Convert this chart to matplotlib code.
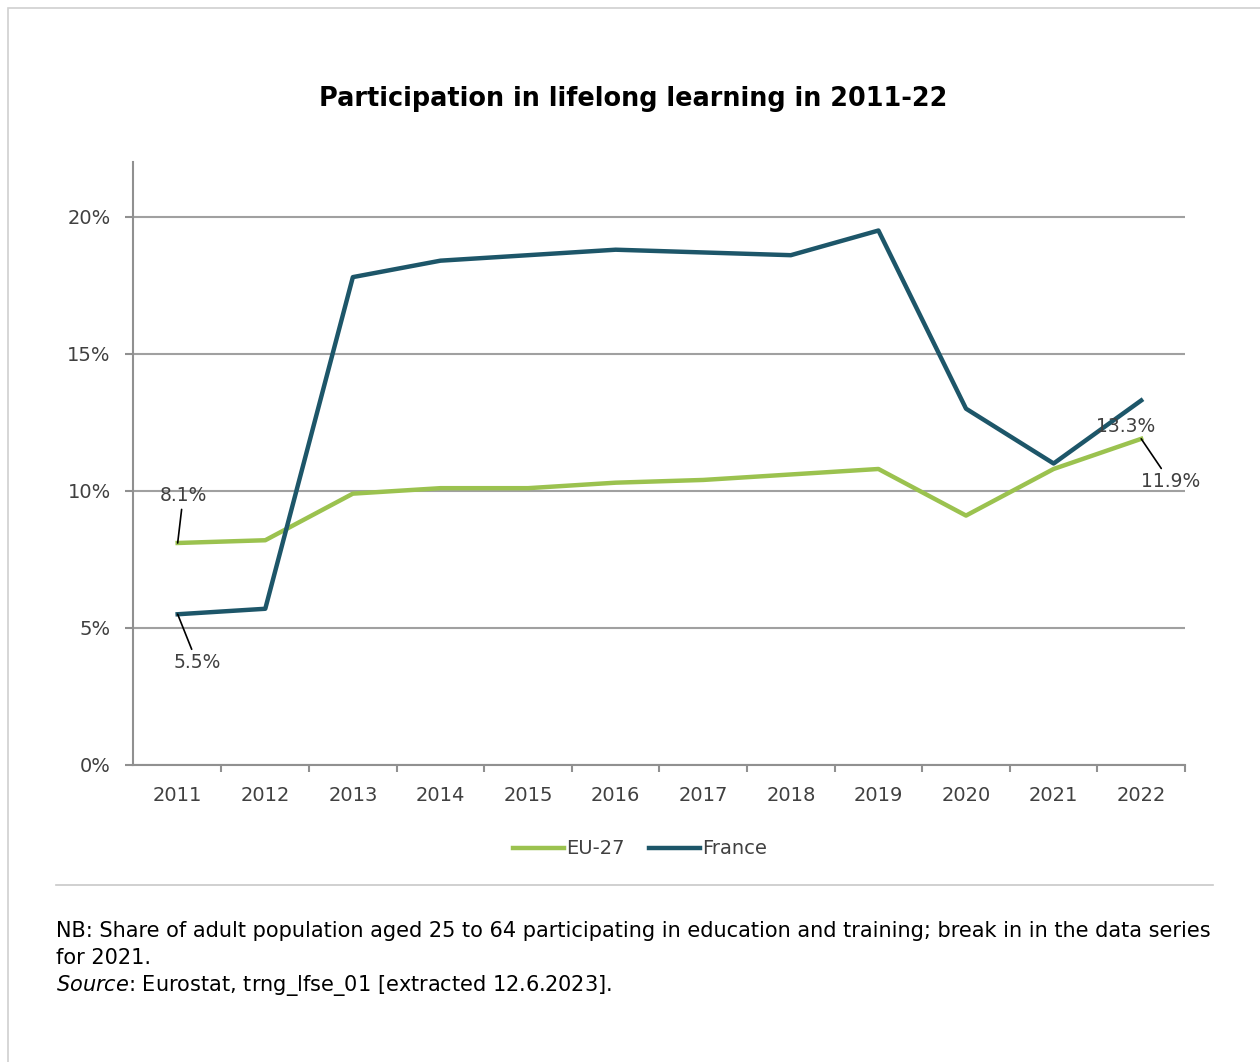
import matplotlib.pyplot as plt
from matplotlib.patches import Rectangle
from matplotlib.ticker import FixedLocator, FuncFormatter

# data (%)
years = [2011, 2012, 2013, 2014, 2015, 2016, 2017, 2018, 2019, 2020, 2021, 2022]
eu27 = [8.1, 8.2, 9.9, 10.1, 10.1, 10.3, 10.4, 10.6, 10.8, 9.1, 10.8, 11.9]
france = [5.5, 5.7, 17.8, 18.4, 18.6, 18.8, 18.7, 18.6, 19.5, 13.0, 11.0, 13.3]

green = '#9bc24f'
teal = '#1d5669'
grey_txt = '#404040'

fig = plt.figure(figsize=(12.6, 10.62), dpi=100)
ax = fig.add_axes([133 / 1260, 1 - 765 / 1062, (1185 - 133) / 1260, (765 - 162) / 1062])

ax.plot(years, eu27, color=green, lw=3.2, label='EU-27', zorder=3)
ax.plot(years, france, color=teal, lw=3.2, label='France', zorder=3)

ax.set_xlim(years[0] - 0.51, years[-1] + 0.5)
ax.set_ylim(0, 22)

# y axis
ax.set_yticks([0, 5, 10, 15, 20])
ax.yaxis.set_major_formatter(FuncFormatter(lambda v, p: f'{v:.0f}%'))
ax.yaxis.grid(True, color='#a0a0a0', lw=1.5)
ax.set_axisbelow(True)

# x axis: labels at centres, tick marks between categories
ax.set_xticks(years)
ax.set_xticklabels([str(y) for y in years])
ax.xaxis.set_minor_locator(FixedLocator([y + 0.5 for y in years]))
ax.tick_params(axis='x', which='major', length=0, pad=15)
ax.tick_params(axis='x', which='minor', length=5, color='#909090', width=1.5, direction='out')
ax.tick_params(axis='y', length=6, color='#909090', width=1.5, pad=10)
ax.tick_params(labelsize=14, labelcolor=grey_txt)

for s in ['top', 'right']:
    ax.spines[s].set_visible(False)
for s in ['left', 'bottom']:
    ax.spines[s].set_color('#909090')
    ax.spines[s].set_linewidth(1.5)

# data labels
ann = dict(textcoords='offset points', ha='center', va='center', fontsize=13.5, color=grey_txt,
           arrowprops=dict(arrowstyle='-', color='black', lw=1.2, shrinkA=1, shrinkB=0))
ax.annotate(f'{eu27[0]}%', (years[0], eu27[0]), xytext=(4, 34), **ann)
ax.annotate(f'{france[0]}%', (years[0], france[0]), xytext=(14, -35), **ann)
ax.annotate(f'{eu27[-1]}%', (years[-1], eu27[-1]), xytext=(21, -31), **ann)
ax.annotate(f'{france[-1]}%', (years[-1], france[-1]), xytext=(-11, -19),
            textcoords='offset points', ha='center', va='center', fontsize=13.5, color=grey_txt)

fig.text(633 / 1260, 1 - 99 / 1062, 'Participation in lifelong learning in 2011-22',
         ha='center', va='center', fontsize=18.4, fontweight='bold')

fig.legend(loc='center', bbox_to_anchor=(640 / 1260, 1 - 849 / 1062), ncol=2, frameon=False,
           fontsize=14, handlelength=2.6, handletextpad=0.1, columnspacing=1.3,
           labelcolor=grey_txt)

# separator and notes
fig.add_artist(plt.Line2D([56 / 1260, 1213 / 1260], [1 - 885 / 1062] * 2,
                          color='#c8c8c8', lw=1.2, transform=fig.transFigure))
fig.text(56 / 1260, 1 - 931 / 1062,
         'NB: Share of adult population aged 25 to 64 participating in education and training; break in in the data series',
         ha='left', va='center', fontsize=15)
fig.text(56 / 1260, 1 - 958 / 1062, 'for 2021.', ha='left', va='center', fontsize=15)
fig.text(56 / 1260, 1 - 986 / 1062, r'$\it{Source}$: Eurostat, trng_lfse_01 [extracted 12.6.2023].',
         ha='left', va='center', fontsize=15)

# outer frame
fig.add_artist(Rectangle((8 / 1260, -0.01), 1.0, 1 - 8 / 1062 + 0.01, transform=fig.transFigure,
                         fill=False, edgecolor='#d0d0d0', lw=1.2))

fig.savefig('out.png', dpi=100)
